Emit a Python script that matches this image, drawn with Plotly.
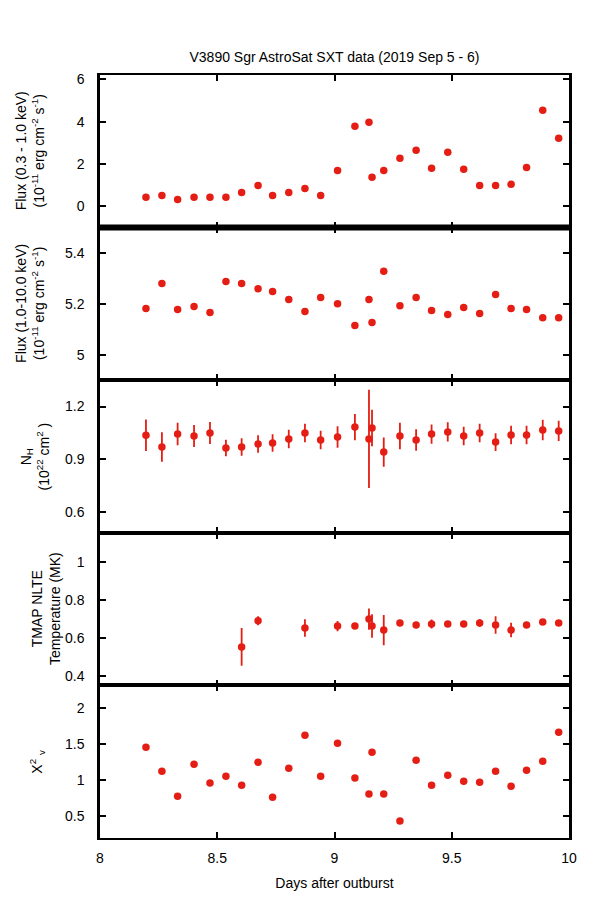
import plotly.graph_objects as go
from plotly.subplots import make_subplots

days = [8.196, 8.264, 8.331, 8.401, 8.469, 8.537, 8.604, 8.674, 8.736, 8.805,
        8.874, 8.941, 9.013, 9.087, 9.147, 9.160, 9.210, 9.279, 9.348, 9.414,
        9.483, 9.551, 9.619, 9.687, 9.753, 9.819, 9.888, 9.956]

flux_soft = [0.43, 0.52, 0.33, 0.43, 0.43, 0.43, 0.66, 0.99, 0.52, 0.66,
             0.85, 0.52, 1.70, 3.78, 3.97, 1.37, 1.70, 2.27, 2.65, 1.80,
             2.55, 1.75, 0.99, 0.99, 1.04, 1.84, 4.54, 3.21]

flux_hard = [5.182, 5.280, 5.178, 5.190, 5.166, 5.288, 5.280, 5.260, 5.249, 5.217,
             5.170, 5.225, 5.201, 5.115, 5.217, 5.127, 5.328, 5.193, 5.225, 5.174,
             5.158, 5.186, 5.162, 5.237, 5.182, 5.178, 5.146, 5.146]

nh = [1.036, 0.969, 1.043, 1.032, 1.049, 0.963, 0.969, 0.986, 0.992, 1.015,
      1.049, 1.009, 1.026, 1.083, 1.015, 1.078, 0.940, 1.032, 1.009, 1.043,
      1.055, 1.032, 1.049, 0.997, 1.038, 1.038, 1.066, 1.061]
nh_err = [0.090, 0.084, 0.064, 0.063, 0.063, 0.047, 0.050, 0.050, 0.050, 0.053,
          0.053, 0.053, 0.061, 0.075, 0.280, 0.104, 0.084, 0.075, 0.061, 0.055,
          0.055, 0.053, 0.053, 0.050, 0.053, 0.053, 0.058, 0.058]

temp = [None, None, None, None, None, None, 0.553, 0.691, None, None,
        0.653, None, 0.663, 0.663, 0.700, 0.663, 0.642, 0.679, 0.669, 0.674,
        0.674, 0.674, 0.679, 0.669, 0.642, 0.669, 0.684, 0.679]
temp_err = [0, 0, 0, 0, 0, 0, 0.100, 0.024, 0, 0,
            0.046, 0, 0.027, 0.010, 0.056, 0.062, 0.080, 0.012, 0.012, 0.024,
            0.012, 0.012, 0.020, 0.046, 0.038, 0.012, 0.012, 0.012]

chi2 = [1.456, 1.124, 0.779, 1.221, 0.959, 1.055, 0.931, 1.248, 0.765, 1.166,
        1.621, 1.055, 1.511, 1.028, 0.807, 1.387, 0.807, 0.434, 1.276, 0.931,
        1.069, 0.986, 0.972, 1.124, 0.917, 1.138, 1.262, 1.663]

x_ticks = [8, 8.5, 9, 9.5, 10]
x_tick_text = ["8", "8.5", "9", "9.5", "10"]

title = "V3890 Sgr AstroSat SXT data (2019 Sep 5 - 6)"
x_title = "Days after outburst"
y_titles = [
    "Flux (0.3 - 1.0 keV)<br>(10<sup>-11</sup> erg cm<sup>-2</sup> s<sup>-1</sup>)",
    "Flux (1.0-10.0 keV)<br>(10<sup>-11</sup> erg cm<sup>-2</sup> s<sup>-1</sup>)",
    "N<sub>H</sub><br>(10<sup>22</sup> cm<sup>2</sup> )",
    "TMAP NLTE<br>Temperature (MK)",
    "X<sup>2</sup> <sub>v</sub>",
]

RED = "#e41e14"
FONT = "Liberation Sans, Arial, sans-serif"

fig = make_subplots(rows=5, cols=1, shared_xaxes=True, vertical_spacing=0)

marker = dict(color=RED, size=7.5, symbol="circle")
err_style = dict(color=RED, thickness=1.8, width=0)

fig.add_trace(go.Scatter(x=days, y=flux_soft, mode="markers", marker=marker), row=1, col=1)
fig.add_trace(go.Scatter(x=days, y=flux_hard, mode="markers", marker=marker), row=2, col=1)
fig.add_trace(go.Scatter(x=days, y=nh, mode="markers", marker=marker,
                         error_y=dict(type="data", array=nh_err, **err_style)), row=3, col=1)
fig.add_trace(go.Scatter(x=days, y=temp, mode="markers", marker=marker,
                         error_y=dict(type="data", array=temp_err, **err_style)), row=4, col=1)
fig.add_trace(go.Scatter(x=days, y=chi2, mode="markers", marker=marker), row=5, col=1)

tickfont = dict(family=FONT, size=14, color="black")
x_common = dict(showline=True, linecolor="black", linewidth=1.5, mirror="ticks",
                ticks="inside", ticklen=6, tickwidth=1.5, tickcolor="black",
                showgrid=False, zeroline=False, tickfont=tickfont, ticklabelstandoff=6)
y_common = dict(showline=True, linecolor="black", linewidth=2.5, mirror="ticks",
                ticks="inside", ticklen=6, tickwidth=1.5, tickcolor="black",
                showgrid=False, zeroline=False, tickfont=tickfont, ticklabelstandoff=10)

for r in range(1, 6):
    fig.update_xaxes(range=[8, 10], tickvals=x_ticks, ticktext=x_tick_text,
                     showticklabels=(r == 5), row=r, col=1, **x_common)

fig.update_yaxes(range=[-1, 6.2], tickvals=[0, 2, 4, 6], row=1, col=1, **y_common)
fig.update_yaxes(range=[4.9, 5.5], tickvals=[5, 5.2, 5.4], ticktext=["5", "5.2", "5.4"], row=2, col=1, **y_common)
fig.update_yaxes(range=[0.48, 1.35], tickvals=[0.6, 0.9, 1.2], ticktext=["0.6", "0.9", "1.2"], row=3, col=1, **y_common)
fig.update_yaxes(range=[0.35, 1.155], tickvals=[0.4, 0.6, 0.8, 1], ticktext=["0.4", "0.6", "0.8", "1"], row=4, col=1, **y_common)
fig.update_yaxes(range=[0.2, 2.31], tickvals=[0.5, 1, 1.5, 2], ticktext=["0.5", "1", "1.5", "2"], row=5, col=1, **y_common)

fig.update_xaxes(title=dict(text=x_title, font=dict(family=FONT, size=14, color="black"), standoff=14), row=5, col=1)

# y-axis titles as rotated annotations (centre x offset in px from plot left edge)
title_x_px = [-70, -70, -66, -54, -63]
for i, (t, dx) in enumerate(zip(y_titles, title_x_px)):
    y_center = 1 - (i + 0.5) / 5
    fig.add_annotation(text=t, xref="paper", yref="paper", x=0, y=y_center,
                       xanchor="center", yanchor="middle", xshift=dx,
                       textangle=-90, showarrow=False,
                       font=dict(family=FONT, size=14, color="black"))

# thick separator between first and second panel
fig.add_shape(type="line", xref="paper", yref="paper", x0=0, x1=1, y0=0.8, y1=0.8,
              line=dict(color="black", width=6), layer="above")

# page body has an 8px margin; size the figure so the plot lands where the reference has it
fig.update_layout(
    width=592, height=892,
    margin=dict(l=92, r=31, t=67, b=62),
    paper_bgcolor="white", plot_bgcolor="white",
    showlegend=False,
    title=dict(text=title, x=0.5, xref="paper", xanchor="center", y=1 - 49 / 892, yanchor="middle",
               font=dict(family=FONT, size=14, color="black")),
    font=dict(family=FONT, size=14, color="black"),
)

fig.write_html("out.html")
